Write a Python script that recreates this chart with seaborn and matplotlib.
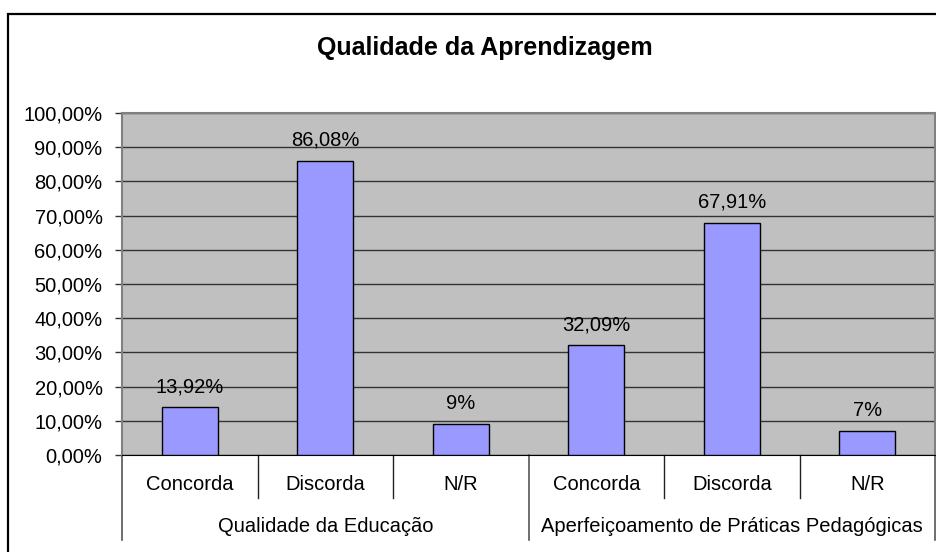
import numpy as np
import pandas as pd
import seaborn as sns
import matplotlib.pyplot as plt
from matplotlib.patches import Rectangle

# Dados do gráfico
grupos = ['Qualidade da Educação', 'Aperfeiçoamento de Práticas Pedagógicas']
respostas = ['Concorda', 'Discorda', 'N/R']
valores = [13.92, 86.08, 9, 32.09, 67.91, 7]
rotulos = ['13,92%', '86,08%', '9%', '32,09%', '67,91%', '7%']
yticks = [0, 10, 20, 30, 40, 50, 60, 70, 80, 90, 100]

df = pd.DataFrame({
    'grupo': np.repeat(grupos, len(respostas)),
    'resposta': respostas * len(grupos),
    'valor': valores,
})
df['chave'] = df['grupo'] + ' | ' + df['resposta']

plt.rcParams['font.family'] = ['Liberation Sans', 'DejaVu Sans']
fs = 14.5

fig = plt.figure(figsize=(9.36, 5.52), dpi=100)
ax = fig.add_axes([122 / 936, 1 - 455 / 552, 813 / 936, 342 / 552])
ax.set_facecolor('#C0C0C0')

sns.barplot(data=df, x='chave', y='valor', color='#9999FF', saturation=1,
            width=0.41, edgecolor='black', linewidth=1, ax=ax, zorder=3)

ax.set_xlim(-0.5, len(df) - 0.5)
ax.set_ylim(0, 100)
ax.set_yticks(yticks)
ax.set_yticklabels([f'{v:.2f}%'.replace('.', ',') for v in yticks], fontsize=fs)
ax.tick_params(axis='y', length=5, width=1, color='#333333', pad=9)
ax.set_axisbelow(True)
ax.yaxis.grid(True, color='#333333', linewidth=1)
ax.set_xticks([])
ax.set_xlabel('')
ax.set_ylabel('')

for side in ['top', 'right', 'left']:
    ax.spines[side].set_color('#808080')
    ax.spines[side].set_linewidth(1.5)
ax.spines['bottom'].set_color('black')

ax.bar_label(ax.containers[0], labels=rotulos, padding=8, fontsize=fs)

# Eixo de categorias em dois níveis
trans = ax.get_xaxis_transform()
for i, r in enumerate(df['resposta']):
    ax.text(i, -0.0877, r, transform=trans, ha='center', va='center', fontsize=fs)
for j, g in enumerate(grupos):
    ax.text(j * 3 + 1, -0.2105, g, transform=trans, ha='center', va='center', fontsize=fs)
for x in [0.5, 1.5, 3.5, 4.5]:
    ax.plot([x, x], [0, -0.1257], transform=trans, clip_on=False, color='#222222', lw=1)
for x in [-0.5, 2.5, 5.5]:
    ax.plot([x, x], [0, -0.2485], transform=trans, clip_on=False, color='#555555', lw=1.2)

fig.text(485 / 936, 1 - 48 / 552, 'Qualidade da Aprendizagem', fontweight='bold',
         fontsize=18, ha='center', va='center')

fig.patches.append(Rectangle((8 / 936, -0.1), 1.2, 1 - 14 / 552 + 0.1,
                             transform=fig.transFigure, fill=False, lw=1.6, ec='black'))

fig.savefig('out.png', dpi=100)
